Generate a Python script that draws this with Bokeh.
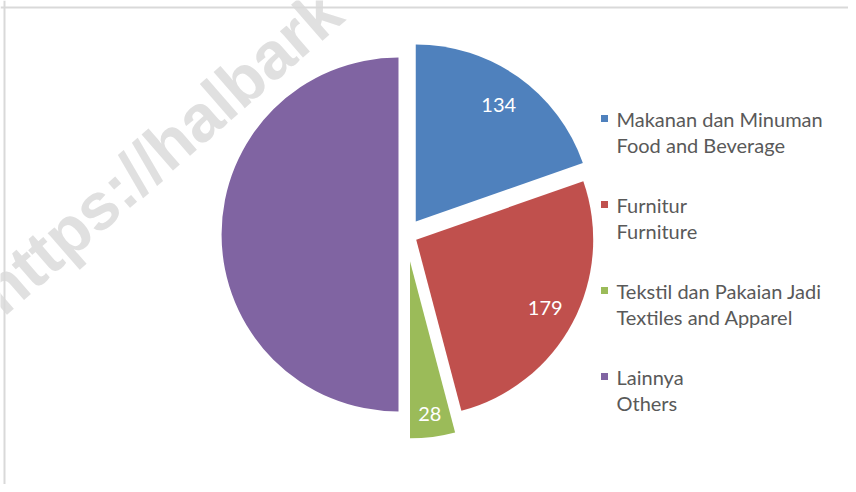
import numpy as np
from bokeh.plotting import figure
from bokeh.models import ColumnDataSource, Range1d, Span
from bokeh.embed import file_html
from bokeh.resources import INLINE
from bokeh.core.properties import value

# ---- data ----
labels_id = ["Makanan dan Minuman", "Furnitur", "Tekstil dan Pakaian Jadi", "Lainnya"]
labels_en = ["Food and Beverage", "Furniture", "Textiles and Apparel", "Others"]
values = [134, 179, 28, 341]
colors = ["#4F81BD", "#C0504D", "#9BBB59", "#8064A2"]
show_value = [True, True, True, False]

# ---- styles ----
explode = [16, 11, 27, 8]               # per-slice explosion, px
label_radius_frac = [0.81, 0.825, 0.87, 0.8]
watermark = "https://halbark"

# ---- layout (figure units == pixels, origin bottom-left) ----
W, H = 848, 484
def fx(px):
    return px
def fy(py):
    return H - py

CX, CY = fx(406), fy(234)
R = 177

FONT = "Lato"

p = figure(width=W, height=H, output_backend="svg", toolbar_location=None,
           x_range=Range1d(0, W), y_range=Range1d(0, H), min_border=0,
           x_axis_location=None, y_axis_location=None)
p.grid.visible = False
p.outline_line_color = None
p.background_fill_color = "white"
p.border_fill_color = "white"

# chart-area border (top and left edges visible in the reference)
p.add_layout(Span(location=fx(4), dimension="height", line_color="#d9d9d9", line_width=2))
p.add_layout(Span(location=fy(7), dimension="width", line_color="#d9d9d9", line_width=2))

# watermark (behind the pie)
wm_angle = np.deg2rad(41)
p.text(x=[fx(-12)], y=[fy(300)], text=[watermark], angle=wm_angle,
       text_font=value("Liberation Sans"), text_font_style="bold",
       text_font_size="66px", text_color="#e0e0e0",
       text_align="left", text_baseline="middle")

# pie geometry from the values
vals = np.array(values, dtype=float)
cum = np.cumsum(vals) / vals.sum() * 2 * np.pi
clk_start = np.concatenate([[0.0], cum[:-1]])
clk_end = cum
bis = (clk_start + clk_end) / 2
ex = np.array(explode, dtype=float)
cxs = CX + ex * np.sin(bis)
cys = CY + ex * np.cos(bis)

src = ColumnDataSource(dict(
    x=cxs, y=cys,
    start=np.pi / 2 - clk_end, end=np.pi / 2 - clk_start,
    color=colors,
))
p.wedge(x="x", y="y", radius=R, start_angle="start", end_angle="end",
        fill_color="color", line_color=None, source=src)

# data labels
lx, ly, lt = [], [], []
for i, v in enumerate(values):
    if not show_value[i]:
        continue
    r = label_radius_frac[i] * R
    lx.append(cxs[i] + r * np.sin(bis[i]))
    ly.append(cys[i] + r * np.cos(bis[i]))
    lt.append(str(v))
p.text(x=lx, y=ly, text=lt, text_font=value(FONT), text_font_size="20px",
       text_color="white", text_align="center", text_baseline="middle")

# legend (manual, two-line entries)
n = len(values)
ly1 = [fy(118 + 86 * i) for i in range(n)]
ly2 = [fy(118 + 86 * i + 26) for i in range(n)]
p.scatter(x=[fx(604)] * n, y=ly1, marker="square", size=7,
          fill_color=colors, line_color=None)
p.text(x=[fx(616)] * n, y=ly1, text=labels_id, text_font=value(FONT),
       text_font_size="20px", text_color="#595959",
       text_align="left", text_baseline="middle")
p.text(x=[fx(616)] * n, y=ly2, text=labels_en, text_font=value(FONT),
       text_font_size="20px", text_color="#595959",
       text_align="left", text_baseline="middle")

open("out.html", "w").write(file_html(p, INLINE))
